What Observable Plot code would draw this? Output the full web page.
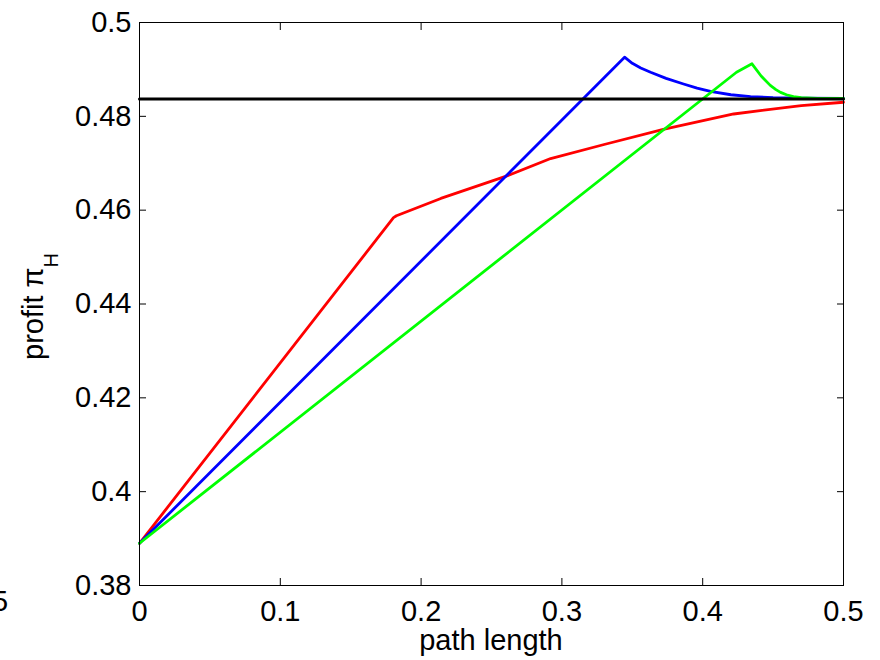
<!DOCTYPE html>
<html><head><meta charset="utf-8">
<script src="https://cdn.jsdelivr.net/npm/d3@7"></script>
<script src="https://cdn.jsdelivr.net/npm/@observablehq/plot@0.6"></script>
<style>
body{margin:0;background:#fff;}
#wrap{position:relative;width:880px;height:660px;overflow:hidden;}
</style></head><body><div id="wrap"></div>
<script>
const xTicks = [0, 0.1, 0.2, 0.3, 0.4, 0.5];
const yTicks = [0.38, 0.40, 0.42, 0.44, 0.46, 0.48, 0.50];

const redX = [0, 0.1804, 0.1825, 0.214, 0.26, 0.292, 0.33, 0.372, 0.422, 0.47, 0.5];
const redY = [0.389, 0.4584, 0.4588, 0.4625, 0.4672, 0.4710, 0.4740, 0.4772, 0.4805, 0.4823, 0.4830];

const blueX = [0, 0.3445, 0.350, 0.356, 0.363, 0.374, 0.3864, 0.396, 0.4055, 0.42, 0.434, 0.45, 0.47, 0.5];
const blueY = [0.389, 0.4926, 0.4913, 0.4903, 0.4894, 0.4881, 0.4869, 0.4860, 0.4853, 0.4846, 0.4842, 0.4840, 0.4839, 0.4838];

const greenX = [0, 0.424, 0.435, 0.4415, 0.448, 0.452, 0.4553, 0.4595, 0.4645, 0.47, 0.4815, 0.5];
const greenY = [0.389, 0.4894, 0.4912, 0.4886, 0.4866, 0.4857, 0.4851, 0.4846, 0.4842, 0.4840, 0.4838, 0.4838];

const blackX = [0, 0.5];
const blackY = [0.4837, 0.4837];

const toRows = (xs, ys) => xs.map((x, i) => ({x, y: ys[i]}));
const red = toRows(redX, redY), blue = toRows(blueX, blueY),
      green = toRows(greenX, greenY), black = toRows(blackX, blackY);

const fmt = d3.format("~g");
const W = 2.8;

const svg = Plot.plot({
  width: 880, height: 660,
  marginLeft: 139, marginRight: 37, marginTop: 22, marginBottom: 75,
  style: {fontFamily: "'Liberation Sans', Arial, sans-serif", fontSize: "29px", background: "white", color: "black", overflow: "visible"},
  x: {domain: [0, 0.5]},
  y: {domain: [0.38, 0.5]},
  marks: [
    Plot.line(red, {x: "x", y: "y", stroke: "#ff0000", strokeWidth: W, curve: "linear"}),
    Plot.line(blue, {x: "x", y: "y", stroke: "#0000ff", strokeWidth: W, curve: "linear"}),
    Plot.line(green, {x: "x", y: "y", stroke: "#00ff00", strokeWidth: W, curve: "linear"}),
    Plot.line(black, {x: "x", y: "y", stroke: "#000000", strokeWidth: 3}),
    Plot.frame({stroke: "black", strokeWidth: 1}),
    Plot.axisX(xTicks, {anchor: "bottom", tickSize: -7, fill: "none", label: null}),
    Plot.axisX(xTicks, {anchor: "top", tickSize: -7, fill: "none", label: null}),
    Plot.axisY(yTicks, {anchor: "left", tickSize: -7, fill: "none", label: null}),
    Plot.axisY(yTicks, {anchor: "right", tickSize: -7, fill: "none", label: null}),
    Plot.axisX(xTicks, {anchor: "bottom", tickSize: 0, tickPadding: 15, tickFormat: fmt, label: null}),
    Plot.axisY(yTicks, {anchor: "left", tickSize: 0, tickPadding: 8, tickFormat: fmt, label: null})
  ]
});

const s = d3.select(svg);
const yl = s.append("text")
  .attr("transform", "translate(43,360) rotate(-90)")
  .attr("text-anchor", "start")
  .attr("fill", "black")
  .attr("font-size", 29);
yl.append("tspan").text("profit \u03c0");
yl.append("tspan").attr("font-size", 20).attr("dy", 15).text("H");

s.append("text").attr("x", 491).attr("y", 650).attr("text-anchor", "middle")
  .attr("fill", "black").attr("font-size", 29).text("path length");

s.append("text").attr("x", -8).attr("y", 611).attr("text-anchor", "start").attr("fill", "black")
  .attr("font-size", 29).text("5");

document.getElementById("wrap").appendChild(svg);
</script></body></html>
